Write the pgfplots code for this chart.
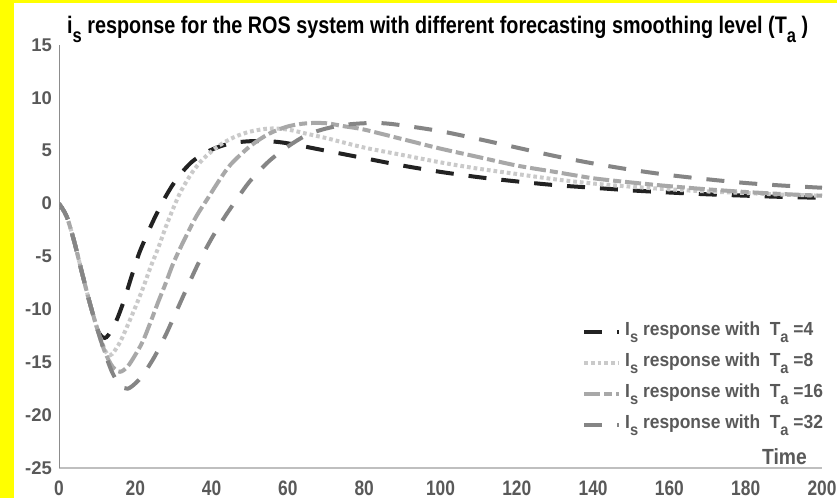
\documentclass[border=0pt]{standalone}
\usepackage{fontspec}
\setmainfont{Liberation Sans}
\usepackage{pgfplots}
\pgfplotsset{compat=1.18}
\definecolor{tickgray}{HTML}{595959}
\definecolor{bgyellow}{HTML}{FFFF00}
\definecolor{cA}{HTML}{222222}
\definecolor{cB}{HTML}{CACACA}
\definecolor{cC}{HTML}{A8A8A8}
\definecolor{cD}{HTML}{858585}
\newcommand{\nx}[1]{\scalebox{0.83}[1]{#1}}
\newcommand{\lsub}[1]{\raisebox{-7bp}{\fontsize{16}{16}\selectfont #1}}
\newcommand{\tsub}[1]{\raisebox{-9bp}{\fontsize{20}{20}\selectfont #1}}

\begin{document}
\begin{tikzpicture}
% yellow frame on left and top
\fill[bgyellow] (-59bp,-30bp) rectangle (778bp,468bp);
\fill[white] (-45bp,-30bp) rectangle (778bp,465bp);

\begin{axis}[
    at={(0,0)}, anchor=south west,
    scale only axis,
    width=763bp, height=423bp,
    xmin=0, xmax=200, ymin=-25, ymax=15,
    axis x line*=bottom, axis y line*=left,
    x axis line style={draw=black!25, line width=1.5bp},
    y axis line style={draw=black!45, line width=1bp},
    major tick length=0pt,
    xtick={0,20,...,200},
    xticklabels={\nx{0},\nx{20},\nx{40},\nx{60},\nx{80},\nx{100},\nx{120},\nx{140},\nx{160},\nx{180},\nx{200}},
    ytick={-25,-20,...,15},
    yticklabels={-25,-20,-15,-10,-5,0,5,10,15},
    xticklabel style={font=\fontsize{21}{21}\selectfont\bfseries, text=tickgray, anchor=base, inner sep=0pt, yshift=-27bp},
    yticklabel style={font=\fontsize{18.5}{18.5}\selectfont\bfseries, text=tickgray, anchor=east, inner sep=0pt, xshift=-7bp},
    legend cell align=left,
    legend style={at={(rel axis cs:0.6855,0.366)}, anchor=north west, draw=none, fill=none,
        inner sep=0pt, column sep=4bp, row sep=0pt,
        font=\fontsize{19}{19}\selectfont\bfseries, text=tickgray,
        nodes={inner sep=0pt, text height=22bp, text depth=9bp}},
    legend image code/.code={\draw[#1] (0bp,-3bp) -- (35bp,-3bp);},
    every axis plot/.append style={line width=4bp, smooth},
]
\addplot[cA, dash pattern=on 18bp off 15bp] coordinates {
(0,0)(2,-1.2)(4,-3.6)(6,-6.5)(8,-9.3)(10,-11.8)(11,-12.5)(12,-12.7)(13,-12.4)
(15,-11.1)(17,-9.2)(19,-6.9)(21,-4.7)(23,-3.0)(25,-1.4)(28,0.7)(31,2.4)(35,4.0)
(40,5.1)(45,5.7)(50,5.9)(55,5.9)(60,5.7)(70,5.0)(80,4.3)(90,3.6)(100,3.0)
(110,2.5)(120,2.1)(130,1.75)(140,1.5)(150,1.25)(160,1.05)(170,0.88)(180,0.75)
(190,0.63)(200,0.55)
};
\addlegendentry{\scalebox{0.92}[1]{I\lsub{s} response with\ \ T\lsub{a} =4}}
\addplot[cB, dash pattern=on 3.7bp off 3bp] coordinates {
(0,0)(2,-1.2)(4,-3.6)(6,-6.5)(8,-9.3)(10,-11.8)(12,-13.8)(13,-14.3)(14,-14.2)
(16,-13.1)(18,-11.5)(20,-9.8)(22,-8.0)(24,-6.0)(26,-4.2)(28,-2.2)(30,-0.4)
(32,1.2)(35,3.0)(38,4.3)(42,5.5)(46,6.3)(50,6.8)(55,7.1)(60,7.0)(65,6.6)
(70,6.2)(80,5.3)(90,4.6)(100,3.9)(110,3.3)(120,2.8)(130,2.3)(140,1.9)(150,1.6)
(160,1.35)(170,1.15)(180,1.0)(190,0.85)(200,0.75)
};
\addlegendentry{\scalebox{0.92}[1]{I\lsub{s} response with\ \ T\lsub{a} =8}}
\addplot[cC, dash pattern=on 16bp off 4bp on 8bp off 4bp] coordinates {
(0,0)(2,-1.2)(4,-3.6)(6,-6.5)(8,-9.3)(10,-11.8)(12,-14.0)(14,-15.4)(16,-15.9)
(18,-15.4)(20,-14.3)(22,-13.0)(24,-11.2)(26,-9.3)(28,-7.5)(30,-5.6)(33,-3.3)
(36,-1.2)(39,0.5)(42,2.2)(45,3.7)(50,5.4)(55,6.6)(60,7.3)(65,7.6)(70,7.6)
(75,7.3)(80,7.0)(90,6.1)(100,5.2)(110,4.4)(120,3.6)(130,3.0)(140,2.4)(150,2.0)
(160,1.65)(170,1.35)(180,1.1)(190,0.9)(200,0.75)
};
\addlegendentry{\scalebox{0.92}[1]{I\lsub{s} response with\ \ T\lsub{a} =16}}
\addplot[cD, dash pattern=on 18bp off 15bp] coordinates {
(0,0)(2,-1.2)(4,-3.6)(6,-6.5)(8,-9.3)(10,-11.8)(12,-14.1)(14,-16.0)(16,-17.2)
(18,-17.5)(20,-17.0)(22,-16.2)(25,-14.5)(28,-12.4)(31,-10.0)(34,-7.6)(37,-5.3)
(40,-3.3)(43,-1.5)(46,0.1)(50,2.1)(55,4.0)(60,5.4)(65,6.5)(70,7.1)(75,7.45)
(80,7.6)(85,7.6)(90,7.4)(100,6.85)(110,6.1)(120,5.3)(130,4.5)(140,3.8)
(150,3.2)(160,2.7)(170,2.3)(180,1.95)(190,1.7)(200,1.5)
};
\addlegendentry{\scalebox{0.92}[1]{I\lsub{s} response with\ \ T\lsub{a} =32}}
\end{axis}

\node[anchor=base west, inner sep=0pt] at (8bp,434bp)
  {\resizebox{741bp}{\height}{\fontsize{24}{24}\selectfont\bfseries i\tsub{s} response for the ROS system with different forecasting smoothing level (T\tsub{a} )}};
\node[anchor=base east, inner sep=0pt, text=tickgray] at (748bp,4bp)
  {\fontsize{22}{22}\selectfont\bfseries\scalebox{0.88}[1]{Time}};

\pgfresetboundingbox
\path[use as bounding box] (-59bp,-30bp) rectangle (778bp,468bp);
\end{tikzpicture}
\end{document}
